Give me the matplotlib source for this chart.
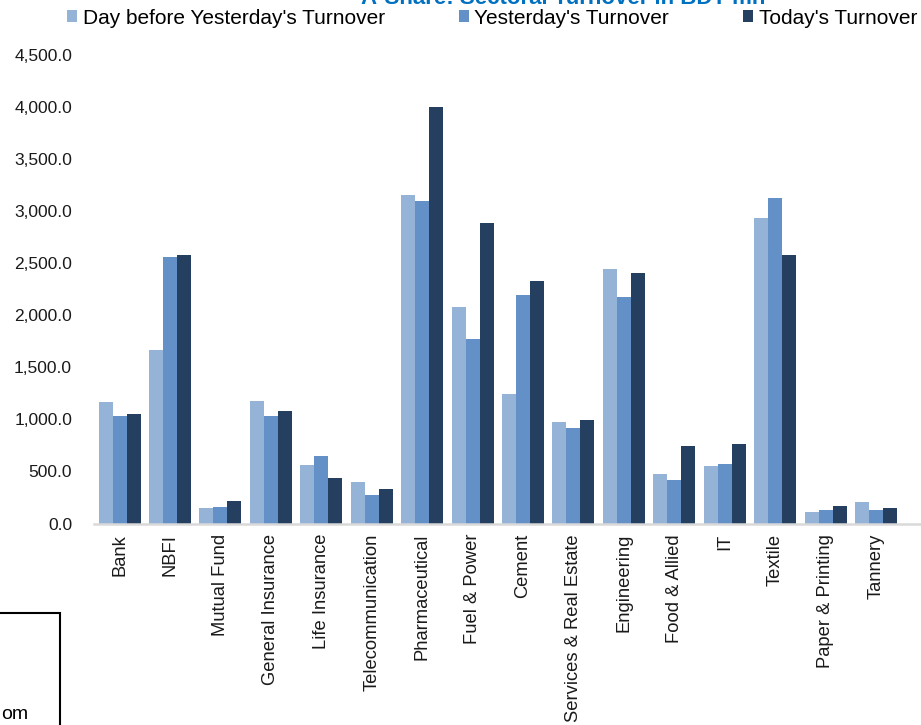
import matplotlib
matplotlib.use("Agg")
import matplotlib.pyplot as plt
from matplotlib.patches import Rectangle
from matplotlib.ticker import FuncFormatter
import numpy as np

plt.rcParams['font.family'] = ['Liberation Sans', 'DejaVu Sans']

categories = ["Bank", "NBFI", "Mutual Fund", "General Insurance", "Life Insurance",
              "Telecommunication", "Pharmaceutical", "Fuel & Power", "Cement",
              "Services & Real Estate", "Engineering", "Food & Allied", "IT",
              "Textile", "Paper & Printing", "Tannery"]

day_before = [1164, 1667, 149, 1177, 562, 396, 3153, 2080, 1241, 978,
              2448, 475, 552, 2935, 113, 207]
yesterday = [1033, 2560, 158, 1030, 651, 277, 3098, 1772, 2192, 920,
             2176, 421, 569, 3127, 133, 133]
today = [1052, 2576, 213, 1081, 437, 328, 4001, 2890, 2327, 997,
         2409, 745, 767, 2576, 171, 152]

series_names = ["Day before Yesterday's Turnover", "Yesterday's Turnover", "Today's Turnover"]
colors = ["#95B3D7", "#6390C6", "#253F60"]
y_ticks = [0, 500, 1000, 1500, 2000, 2500, 3000, 3500, 4000, 4500]
title = "A-Share: Sectoral Turnover in BDT mn"
footer_text = "om"

W, H = 921, 725
fig = plt.figure(figsize=(W / 100, H / 100), dpi=100)

ax_left, ax_right = 94.3, 94.3 + 17 * 50.43
ax_bottom, ax_top = 523.5, 55.0
ax = fig.add_axes([ax_left / W, 1 - ax_bottom / H,
                   (ax_right - ax_left) / W, (ax_bottom - ax_top) / H])

x = np.arange(len(categories))
bw = 0.2776
handles = []
for i, (vals, c, name) in enumerate(zip([day_before, yesterday, today], colors, series_names)):
    b = ax.bar(x + (i - 1) * bw, vals, width=bw, color=c, label=name,
               edgecolor='none', zorder=2)
    handles.append(b)

ax.set_xlim(-0.5, 16.5)
ax.set_ylim(0, 4500)
ax.set_yticks(y_ticks)
ax.yaxis.set_major_formatter(FuncFormatter(lambda v, p: f"{v:,.1f}"))
ax.set_xticks(x)
ax.set_xticklabels(categories, rotation=90, fontsize=13.2, color='#1a1a1a')
ax.tick_params(axis='x', length=0, pad=7.5)
ax.tick_params(axis='y', length=0, pad=16, labelsize=12.5, labelcolor='#1a1a1a')
for s in ['top', 'right', 'left']:
    ax.spines[s].set_visible(False)
ax.spines['bottom'].set_color('#D9D9D9')
ax.spines['bottom'].set_linewidth(1.8)

fig.legend(handles=handles, labels=series_names, loc='center left',
           bbox_to_anchor=(67 / W, 1 - 18 / H), ncol=3, frameon=False,
           fontsize=15, handlelength=0.5, handleheight=0.5, handletextpad=0.25,
           columnspacing=3.55, borderpad=0, borderaxespad=0)

fig.text(563 / W, 1 - 4 / H, title, ha='center', va='baseline',
         fontsize=16, fontweight='bold', color='#0070C0')

fig.patches.append(Rectangle((-20 / W, 1 - 760 / H), (59.5 + 20) / W, (760 - 613) / H,
                             transform=fig.transFigure, fill=False,
                             edgecolor='black', linewidth=1.5, clip_on=False))
fig.text(28 / W, 1 - 719 / H, footer_text, ha='right', va='baseline',
         fontsize=14, color='black')

fig.savefig("out.png", dpi=100)
